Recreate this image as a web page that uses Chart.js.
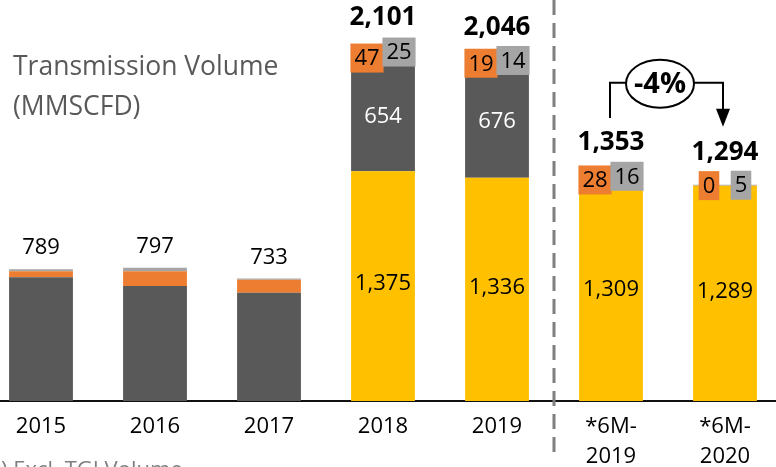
<!DOCTYPE html>
<html>
<head>
<meta charset="utf-8">
<script src="https://cdn.jsdelivr.net/npm/chart.js@4"></script>
<style>
  html, body { margin: 0; padding: 0; background: #fff; overflow: hidden; }
  #wrap { position: absolute; left: -16px; top: 0; width: 798px; height: 467px; }
</style>
</head>
<body>
<div id="wrap"><canvas id="volChart"></canvas></div>
<script>
// categories and values
const periods = ['2015', '2016', '2017', '2018', '2019', ['*6M-', '2019'], ['*6M-', '2020']];
const newPipeline = [0, 0, 0, 1375, 1336, 1309, 1289];
const existing = [741, 689, 648, 654, 676, 0, 0];
const orangeVals = [36, 87, 78, 47, 19, 28, 0];
const greyVals = [12, 21, 7, 25, 14, 16, 5];
const totals = [789, 797, 733, 2101, 2046, 1353, 1294];
const changeLabel = '-4%';

const FONT = '"Open Sans", "DejaVu Sans", sans-serif';

function fmt(v) {
    return v.toLocaleString('en-US');
}

const labelPlugin = {
    id: 'volumeLabels',
    afterDraw(chart) {
        const ctx = chart.ctx;
        const xs = chart.scales.x;
        const metas = [0, 1, 2, 3].map(i => chart.getDatasetMeta(i));

        ctx.save();

        // title
        ctx.fillStyle = '#595959';
        ctx.font = '26.5px ' + FONT;
        ctx.textAlign = 'left';
        ctx.textBaseline = 'alphabetic';
        ctx.fillText('Transmission Volume', 29, 75);
        ctx.fillText('(MMSCFD)', 29, 115);

        // footnote, mostly cut off by the bottom edge
        ctx.fillStyle = '#7f7f7f';
        ctx.font = '22px ' + FONT;
        ctx.fillText('*) Excl. TGI Volume', 5, 477);

        // dashed separator between full years and half years
        const sepX = (xs.getPixelForValue(4) + xs.getPixelForValue(5)) / 2;
        ctx.strokeStyle = '#7f7f7f';
        ctx.lineWidth = 3;
        ctx.setLineDash([15, 8]);
        ctx.beginPath();
        ctx.moveTo(sepX, 0);
        ctx.lineTo(sepX, 458);
        ctx.stroke();
        ctx.setLineDash([]);

        for (let i = 0; i < periods.length; i++) {
            const top = metas[3].data[i];
            const cx = top.x;
            const topY = top.y;
            ctx.textAlign = 'center';
            ctx.textBaseline = 'middle';

            if (newPipeline[i] === 0) {
                ctx.fillStyle = '#000';
                ctx.font = '22px ' + FONT;
                ctx.fillText(fmt(totals[i]), cx, topY - 21);
                continue;
            }

            ctx.fillStyle = '#000';
            ctx.font = 'bold 26px ' + FONT;
            ctx.fillText(fmt(totals[i]), cx, topY - 32);

            ctx.font = '22px ' + FONT;
            let el = metas[0].data[i];
            ctx.fillStyle = '#000';
            ctx.fillText(fmt(newPipeline[i]), cx, (el.y + el.base) / 2 - 2);

            el = metas[1].data[i];
            if (existing[i] > 0) {
                ctx.fillStyle = '#fff';
                ctx.fillText(fmt(existing[i]), cx, (el.y + el.base) / 2);
            }

            // small segments get boxed labels side by side
            const boxes = [[2, orangeVals, '#ED7D31', -16], [3, greyVals, '#A5A5A5', 16]];
            boxes.forEach(b => {
                const e = metas[b[0]].data[i];
                const txt = fmt(b[1][i]);
                const w = ctx.measureText(txt).width + 8;
                const by = (e.y + e.base) / 2;
                ctx.fillStyle = b[2];
                ctx.fillRect(cx + b[3] - w / 2, by - 14.5, w, 29);
                ctx.fillStyle = '#000';
                ctx.fillText(txt, cx + b[3], by + 1);
            });
        }

        // growth bracket between the half-year bars
        const a = metas[3].data[5], b = metas[3].data[6];
        const lineY = chart.scales.y.getPixelForValue(1905);
        const ex = (a.x + b.x) / 2 - 8;
        ctx.strokeStyle = '#000';
        ctx.lineWidth = 2;
        ctx.beginPath();
        ctx.moveTo(a.x - 1, a.y - 57);
        ctx.lineTo(a.x - 1, lineY);
        ctx.lineTo(b.x - 2, lineY);
        ctx.lineTo(b.x - 2, b.y - 75);
        ctx.stroke();
        ctx.fillStyle = '#000';
        ctx.beginPath();
        ctx.moveTo(b.x - 9, b.y - 76);
        ctx.lineTo(b.x + 5, b.y - 76);
        ctx.lineTo(b.x - 2, b.y - 58);
        ctx.closePath();
        ctx.fill();

        ctx.fillStyle = '#fff';
        ctx.beginPath();
        ctx.ellipse(ex, lineY + 1, 34, 24, 0, 0, Math.PI * 2);
        ctx.fill();
        ctx.stroke();
        ctx.fillStyle = '#000';
        ctx.font = 'bold 29px ' + FONT;
        ctx.fillText(changeLabel, ex, lineY + 2);

        ctx.restore();
    }
};

const ctx = document.getElementById('volChart').getContext('2d');
const volChart = new Chart(ctx, {
    type: 'bar',
    data: {
        labels: periods,
        datasets: [
            { label: 'New pipeline', data: newPipeline, backgroundColor: '#FFC000' },
            { label: 'Existing', data: existing, backgroundColor: '#595959' },
            { label: 'Other A', data: orangeVals, backgroundColor: '#ED7D31' },
            { label: 'Other B', data: greyVals, backgroundColor: '#A5A5A5' }
        ]
    },
    options: {
        responsive: true,
        maintainAspectRatio: false,
        animation: false,
        layout: { padding: 0 },
        datasets: { bar: { categoryPercentage: 0.8, barPercentage: 0.7 } },
        plugins: {
            legend: { display: false },
            tooltip: { enabled: false }
        },
        scales: {
            x: {
                stacked: true,
                grid: { display: false, drawTicks: false },
                border: { display: true, color: '#111', width: 2 },
                ticks: {
                    color: '#000',
                    font: { family: FONT, size: 22, lineHeight: 1.4 },
                    padding: 10,
                    maxRotation: 0,
                    autoSkip: false
                },
                afterFit: function(scale) { scale.height = 66; }
            },
            y: {
                stacked: true,
                display: false,
                min: 0,
                max: 2400
            }
        }
    },
    plugins: [labelPlugin]
});
</script>
</body>
</html>
